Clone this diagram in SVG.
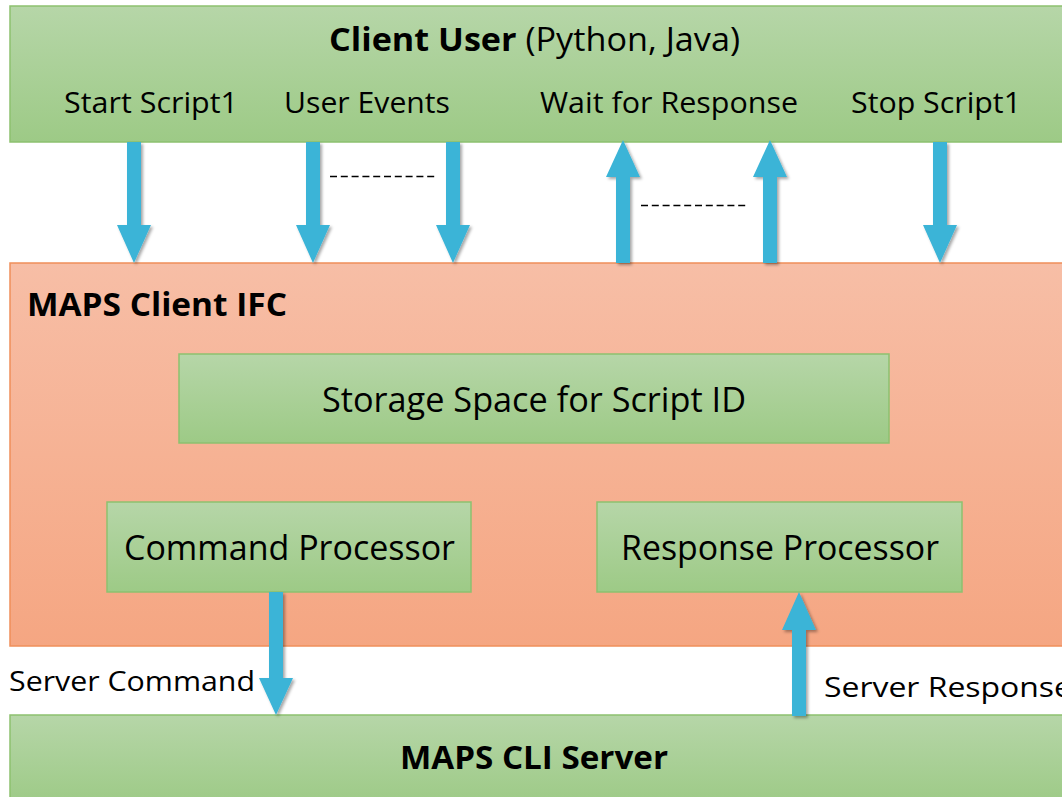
<svg xmlns="http://www.w3.org/2000/svg" width="1062" height="797" viewBox="0 0 1062 797">
<style>
.g{fill:url(#gg);stroke:#8DC16F;stroke-width:1.5}
.o{fill:url(#og);stroke:#EF8F5A;stroke-width:1.5}
.t{font-family:"Open Sans","Noto Sans","Liberation Sans",sans-serif;fill:#000}
.b{font-weight:bold}
.arr{fill:#3AB4D7;filter:url(#sh)}
.dash{stroke:#000;stroke-width:1.4;stroke-dasharray:7 3.8;fill:none}
</style>
<defs>
<linearGradient id="gg" x1="0" y1="0" x2="0" y2="1">
<stop offset="0" stop-color="#B6D6A8"/>
<stop offset="1" stop-color="#9DCA86"/>
</linearGradient>
<linearGradient id="og" x1="0" y1="0" x2="0" y2="1">
<stop offset="0" stop-color="#F7BEA6"/>
<stop offset="1" stop-color="#F5A682"/>
</linearGradient>
<filter id="sh" x="-30%" y="-10%" width="160%" height="120%">
<feDropShadow dx="2" dy="2" stdDeviation="1.5" flood-color="#000" flood-opacity="0.35"/>
</filter>
</defs>
<rect width="1062" height="797" fill="#fff"/>

<g id="client-user">
<rect class="g" x="10" y="6" width="1060" height="136"/>
<text class="t" x="329" y="51" font-size="32" textLength="411" lengthAdjust="spacingAndGlyphs"><tspan class="b">Client User</tspan> (Python, Java)</text>
<text class="t" x="64" y="113" font-size="30" textLength="174" lengthAdjust="spacingAndGlyphs">Start Script1</text>
<text class="t" x="284" y="113" font-size="30" textLength="166" lengthAdjust="spacingAndGlyphs">User Events</text>
<text class="t" x="540" y="113" font-size="30" textLength="258" lengthAdjust="spacingAndGlyphs">Wait for Response</text>
<text class="t" x="851" y="113" font-size="30" textLength="170" lengthAdjust="spacingAndGlyphs">Stop Script1</text>
</g>

<g id="maps-client-ifc">
<rect class="o" x="10" y="263" width="1060" height="383"/>
<text class="t b" x="27" y="316" font-size="33" textLength="260" lengthAdjust="spacingAndGlyphs">MAPS Client IFC</text>
</g>

<g id="storage-space">
<rect class="g" x="179" y="354" width="710" height="89"/>
<text class="t" x="322" y="412" font-size="34" textLength="424" lengthAdjust="spacingAndGlyphs">Storage Space for Script ID</text>
</g>

<g id="command-processor">
<rect class="g" x="107" y="502" width="364" height="90"/>
<text class="t" x="124" y="560" font-size="34" textLength="331" lengthAdjust="spacingAndGlyphs">Command Processor</text>
</g>

<g id="response-processor">
<rect class="g" x="597" y="502" width="365" height="90"/>
<text class="t" x="621" y="560" font-size="34" textLength="318" lengthAdjust="spacingAndGlyphs">Response Processor</text>
</g>

<g id="maps-cli-server">
<rect class="g" x="10" y="715" width="1060" height="90"/>
<text class="t b" x="400" y="769" font-size="33" textLength="268" lengthAdjust="spacingAndGlyphs">MAPS CLI Server</text>
</g>

<g id="connectors">
<polygon class="arr" points="127,142 141,142 141,225 151,225 134,263 117,225 127,225"/>
<polygon class="arr" points="306,142 320,142 320,225 330,225 313,263 296,225 306,225"/>
<polygon class="arr" points="446,142 460,142 460,225 470,225 453,263 436,225 446,225"/>
<polygon class="arr" points="616,263 630,263 630,177 640,177 623,140 606,177 616,177"/>
<polygon class="arr" points="763,263 777,263 777,177 787,177 770,140 753,177 763,177"/>
<polygon class="arr" points="933,142 947,142 947,225 957,225 940,263 923,225 933,225"/>
<polygon class="arr" points="269,592 283,592 283,678 293,678 276,715 259,678 269,678"/>
<polygon class="arr" points="792,716 806,716 806,630 816,630 799,592 782,630 792,630"/>
<line class="dash" x1="330" y1="176.5" x2="437" y2="176.5"/>
<line class="dash" x1="641" y1="205.5" x2="748" y2="205.5"/>
<text class="t" x="9" y="691" font-size="28" textLength="246" lengthAdjust="spacingAndGlyphs">Server Command</text>
<text class="t" x="824" y="697" font-size="28" textLength="248" lengthAdjust="spacingAndGlyphs">Server Response</text>
</g>
</svg>
